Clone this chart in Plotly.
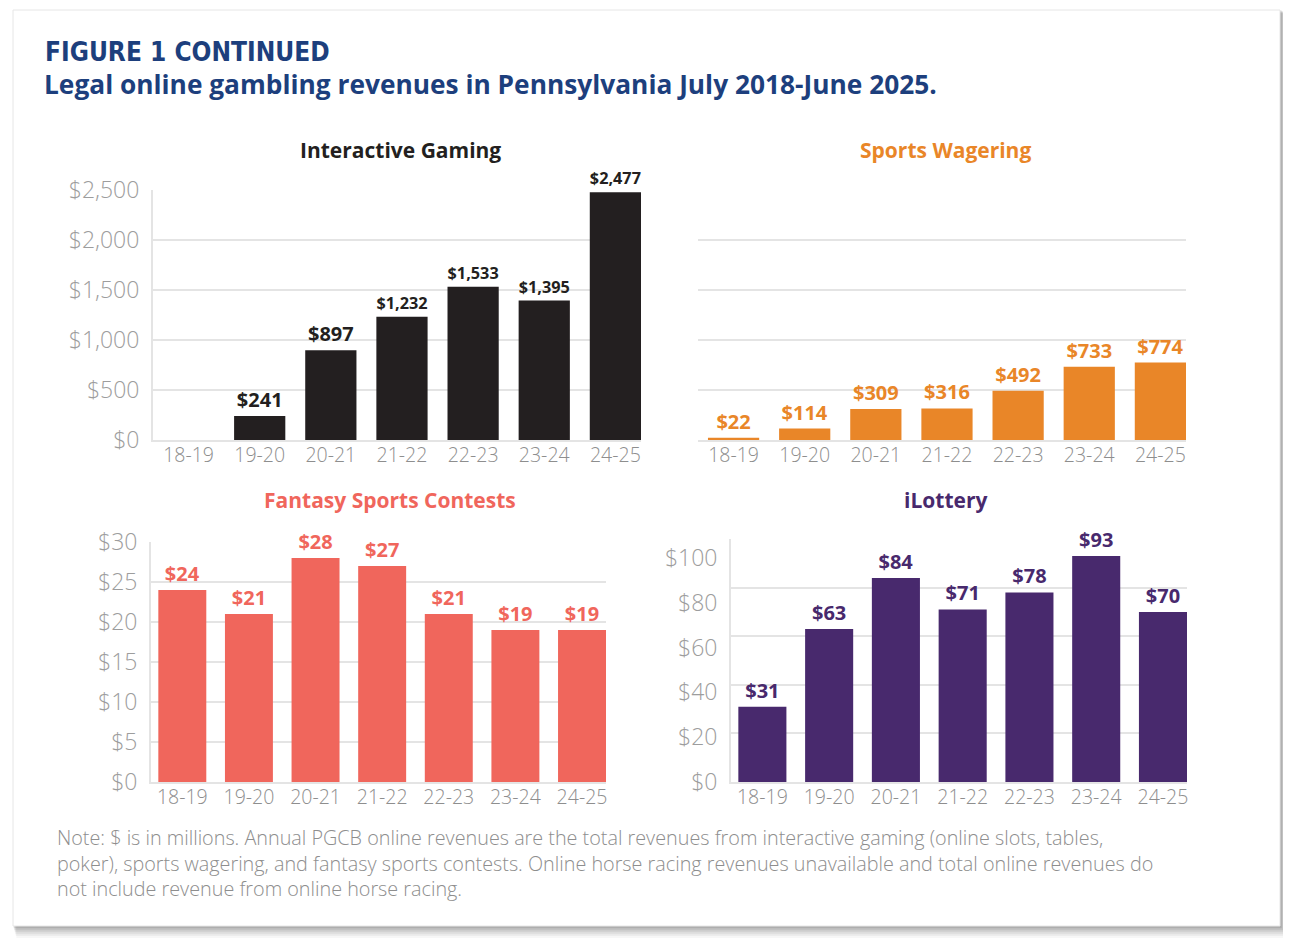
import plotly.graph_objects as go

W, H = 1291, 940
OFF = 8  # the page body margin shifts the figure by this much

# fiscal years shown on every panel
years = ["18-19", "19-20", "20-21", "21-22", "22-23", "23-24", "24-25"]

# revenues, $ millions
interactive_gaming = [None, 241, 897, 1232, 1533, 1395, 2477]
sports_wagering = [22, 114, 309, 316, 492, 733, 774]
fantasy_sports = [24, 21, 28, 27, 21, 19, 19]
ilottery = [31, 63, 84, 71, 78, 93, 70]

# y tick labels
ig_ticks = [0, 500, 1000, 1500, 2000, 2500]
fs_ticks = [0, 5, 10, 15, 20, 25, 30]
il_ticks = [0, 20, 40, 60, 80, 100]

note_lines = [
    "Note: $ is in millions. Annual PGCB online revenues are the total revenues from interactive gaming (online slots, tables,",
    "poker), sports wagering, and fantasy sports contests. Online horse racing revenues unavailable and total online revenues do",
    "not include revenue from online horse racing.",
]

BLUE = "#1d3f7d"
DARK = "#231f20"
ORANGE = "#e98628"
SALMON = "#f0665c"
PURPLE = "#48296d"
GRID = "#e4e4e4"
TICK = "#9d9d9d"
FONT = "Open Sans, Lato, sans-serif"


def px(x):
    return (x - OFF) / W


def py(y):
    return 1 - (y - OFF) / H


fig = go.Figure()


def add_bars(values, color, n):
    fig.add_trace(go.Bar(
        x=years, y=values, xaxis=f"x{n}", yaxis=f"y{n}",
        marker_color=color, marker_line_width=0,
        texttemplate="$%{y:,}", textposition="outside", cliponaxis=False,
        textfont=dict(family=FONT, size=20, color=color, weight="bold"),
        hoverinfo="skip", showlegend=False,
    ))


add_bars(interactive_gaming, DARK, 1)
add_bars(sports_wagering, ORANGE, 2)
add_bars(fantasy_sports, SALMON, 3)
add_bars(ilottery, PURPLE, 4)

xcommon = dict(
    type="category", range=[-0.5, 6.36], showgrid=False, ticks="", automargin=False,
    showline=True, linecolor=GRID, linewidth=2, ticklabelstandoff=-3,
    tickfont=dict(family=FONT, size=19.5, color="#8e8e8e", weight=300),
)
ycommon = dict(
    showgrid=True, gridcolor=GRID, gridwidth=2, zeroline=False, ticks="", automargin=False,
    ticklabelstandoff=7,
    tickfont=dict(family=FONT, size=23, color=TICK, weight=300),
)

top_dom = [py(440), py(190)]
bot_dom = [py(782), py(542)]

fig.update_layout(
    xaxis=dict(xcommon, domain=[px(153), px(641)], anchor="y"),
    yaxis=dict(ycommon, domain=top_dom, anchor="x", range=[0, 2500],
               tickvals=ig_ticks, ticktext=[f"${v:,}" for v in ig_ticks],
               showline=True, linecolor=GRID, linewidth=2),
    xaxis2=dict(xcommon, domain=[px(698), px(1186)], anchor="y2"),
    yaxis2=dict(ycommon, domain=top_dom, anchor="x2", range=[0, 2500],
                tickvals=ig_ticks, showticklabels=False, showline=False),
    xaxis3=dict(xcommon, domain=[px(151), px(606)], anchor="y3", range=[-0.47, 6.36]),
    yaxis3=dict(ycommon, domain=bot_dom, anchor="x3", range=[0, 30],
                tickvals=fs_ticks, ticktext=[f"${v}" for v in fs_ticks],
                showline=True, linecolor=GRID, linewidth=2),
    xaxis4=dict(xcommon, domain=[px(731), px(1187)], anchor="y4", range=[-0.47, 6.36]),
    # in the original the iLottery labels sit a little below their gridlines,
    # so the labels go on major ticks and the gridlines on minor ones
    yaxis4=dict(ycommon, domain=[py(782), py(539)], anchor="x4", range=[0, 100],
                showgrid=False, tickvals=[v * 0.922 for v in il_ticks],
                ticktext=[f"${v}" for v in il_ticks],
                minor=dict(tickvals=il_ticks, showgrid=True, gridcolor=GRID, gridwidth=2, ticks=""),
                showline=True, linecolor=GRID, linewidth=2),
    bargap=0.28,
    width=W, height=H,
    margin=dict(l=0, r=0, t=0, b=0, pad=0),
    paper_bgcolor="white", plot_bgcolor="rgba(0,0,0,0)",
    font=dict(family=FONT),
)

# card with a soft drop shadow
shapes = []
for i, op in enumerate([0.03, 0.04, 0.05, 0.06, 0.08, 0.10]):
    off = 11 - i * 1.8
    shapes.append(dict(type="rect", xref="paper", yref="paper", layer="below",
                       x0=px(13 + off * 0.3), x1=px(1280 + off * 0.9), y0=py(926 + off * 1.1), y1=py(10 + off * 0.3),
                       fillcolor=f"rgba(0,0,0,{op})", line_width=0))
shapes.append(dict(type="rect", xref="paper", yref="paper", layer="below",
                   x0=px(13), x1=px(1280), y0=py(926), y1=py(10),
                   fillcolor="white", line=dict(color="#e6e6e6", width=1)))
fig.update_layout(shapes=shapes)

ann = []
ann.append(dict(text="<b>FIGURE 1 CONTINUED</b>", x=px(43), y=py(52), xanchor="left", yanchor="middle",
                font=dict(family="Noto Sans Condensed, DejaVu Sans Condensed, sans-serif", size=26, color=BLUE)))
ann.append(dict(text="<b>Legal online gambling revenues in Pennsylvania July 2018-June 2025.</b>",
                x=px(42), y=py(84), xanchor="left", yanchor="middle",
                font=dict(family=FONT, size=26.3, color=BLUE)))
for text, x, y, color in [
    ("Interactive Gaming", 400, 150, DARK),
    ("Sports Wagering", 945, 150, ORANGE),
    ("Fantasy Sports Contests", 390, 500, SALMON),
    ("iLottery", 946, 500, PURPLE),
]:
    ann.append(dict(text=f"<b>{text}</b>", x=px(x), y=py(y), xanchor="center", yanchor="middle",
                    font=dict(family=FONT, size=21, color=color)))
ann.append(dict(text="<br>".join(note_lines), x=px(55), y=py(863), xanchor="left", yanchor="middle",
                align="left", font=dict(family=FONT, size=19.8, color="#8e8e8e", weight=300)))
for a in ann:
    a.update(xref="paper", yref="paper", showarrow=False)
fig.update_layout(annotations=ann)

fig.write_html("out.html")
